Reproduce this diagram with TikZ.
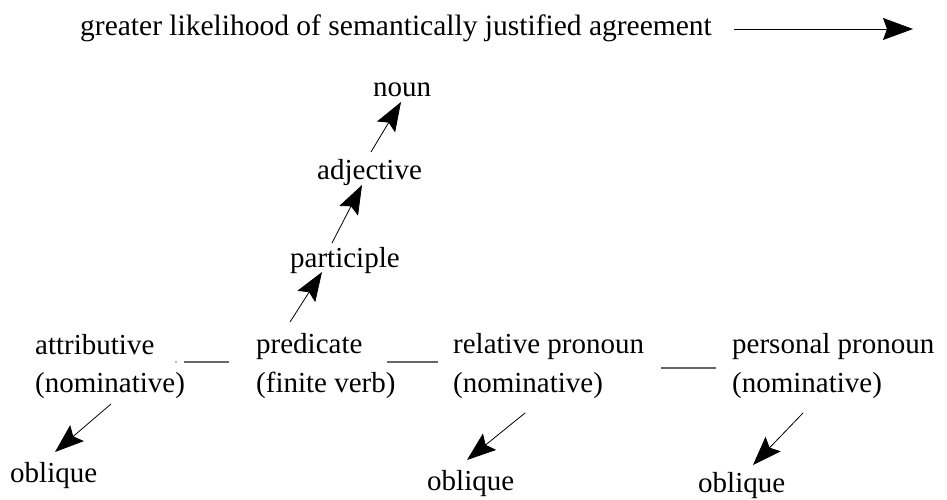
\documentclass[tikz,border=0pt]{standalone}
\usepackage{fontspec}
\setmainfont{Liberation Serif}
\usetikzlibrary{arrows.meta}
\begin{document}
\begin{tikzpicture}[x=1pt,y=-1pt,
  lbl/.style={inner sep=0pt, anchor=base west, font=\fontsize{29}{34}\selectfont},
  arr/.style={line width=0.8pt, -{Stealth[length=29pt,width=21pt,inset=5pt]}},
  bigarr/.style={line width=0.9pt, -{Stealth[length=30pt,width=22pt,inset=4pt]}},
  bar/.style={line width=1.2pt, draw=black!60},
]
\useasboundingbox (0,0) rectangle (947,500);

% heading with its direction arrow
\node[lbl, font=\fontsize{29.5}{34}\selectfont] (title) at (80,36) {greater likelihood of semantically justified agreement};
\coordinate (dirend) at (913,29);
\draw[bigarr] ([shift={(22,-7)}]title.base east) -- (dirend);

% upward chain
\node[lbl] (noun) at (373,97) {noun};
\node[lbl] (adj)  at (317,179) {adjective};
\node[lbl] (part) at (290,267) {participle};

% main row
\node[lbl] (attr)     at (35,354)  {attributive};
\node[lbl] (attrcase) at (35,392)  {(nominative)};
\node[lbl] (pred)     at (256,353) {predicate};
\node[lbl] (predform) at (256,392) {(finite verb)};
\node[lbl] (rel)      at (453,353) {relative pronoun};
\node[lbl] (relcase)  at (453,392) {(nominative)};
\node[lbl] (pers)     at (732,353) {personal pronoun};
\node[lbl] (perscase) at (732,392) {(nominative)};

% oblique forms
\node[lbl] (obl1) at (10,482)  {oblique};
\node[lbl] (obl2) at (427,490) {oblique};
\node[lbl] (obl3) at (698,492) {oblique};

% links between the row members
\fill[black!60] ([shift={(-80,9)}]pred.base west) circle (0.8);
\draw[bar] ([shift={(-72,9)}]pred.base west) -- ([shift={(-27,9)}]pred.base west);
\draw[bar] ([shift={(-66,9)}]rel.base west) -- ([shift={(-15,9)}]rel.base west);
\draw[bar] ([shift={(-71,15)}]pers.base west) -- ([shift={(-16,15)}]pers.base west);

% chain arrows
\draw[arr] ([shift={(34,-31)}]pred.base west) -- ([shift={(32,5)}]part.base west);
\draw[arr] ([shift={(42,-24)}]part.base west) -- ([shift={(45,6)}]adj.base west);
\draw[arr] ([shift={(54,-27)}]adj.base west) -- ([shift={(28,5)}]noun.base west);

% arrows to the oblique forms
\draw[arr] ([shift={(76,12)}]attrcase.base west) -- ([shift={(45,-30)}]obl1.base west);
\draw[arr] ([shift={(72,21)}]relcase.base west) -- ([shift={(40,-30)}]obl2.base west);
\draw[arr] ([shift={(71,21)}]perscase.base west) -- ([shift={(55,-27)}]obl3.base west);
\end{tikzpicture}
\end{document}
